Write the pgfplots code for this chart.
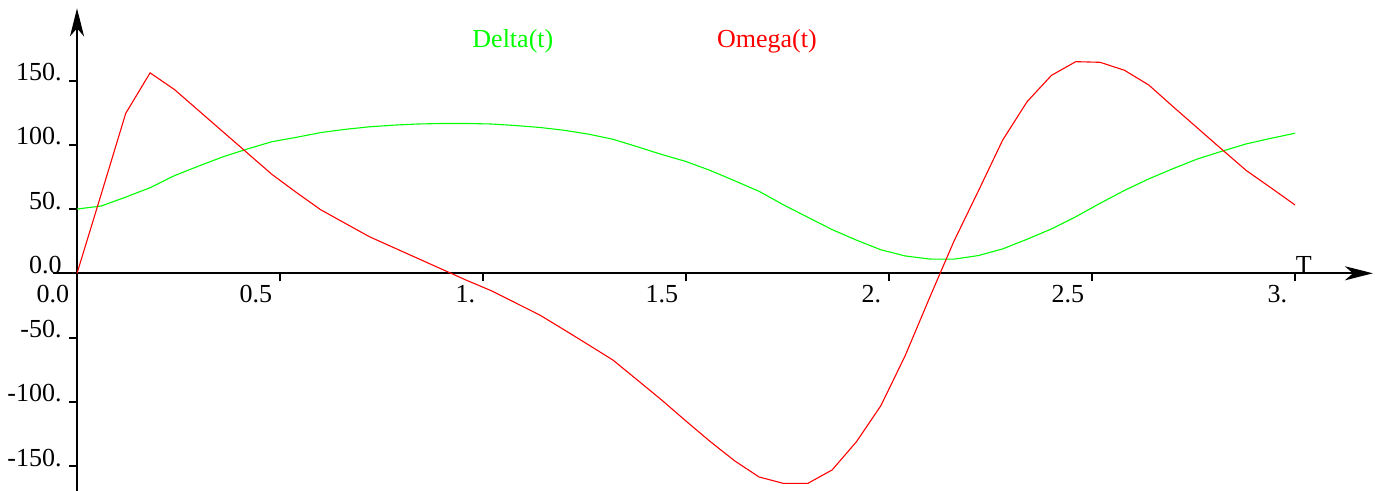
\documentclass[border=0pt]{standalone}
\usepackage{fontspec}
\setmainfont{Liberation Serif}
\usepackage{pgfplots}
\pgfplotsset{compat=1.18}
\usetikzlibrary{arrows.meta}
\definecolor{mygreen}{RGB}{0,255,0}
\definecolor{myred}{RGB}{255,0,0}
\begin{document}
\begin{tikzpicture}[>={Stealth[length=14pt,width=7pt,inset=4pt]}]
\begin{axis}[
  scale only axis,
  x=203pt, y=0.6425pt,
  xmin=-0.059, xmax=3.192,
  ymin=-175, ymax=206.2,
  axis lines=middle,
  axis line style={line width=1.1pt, ->},
  x axis line style={->},
  y axis line style={->},
  clip=false,
  hide obscured x ticks=false,
  hide obscured y ticks=false,
  xtick={0,0.5,1,1.5,2,2.5,3},
  xticklabels={,,,,,,},
  ytick={-150,-100,-50,0,50,100,150},
  yticklabels={,,,,,,},
  minor tick num=0,
  tick align=outside,
  major tick length=4pt,
  every tick/.style={line width=1pt, black},
]
\addplot[color=mygreen, line width=0.55pt] coordinates {
(0,50) (0.06,52.4) (0.12,59.3) (0.18,66.6) (0.24,76) (0.30,83.5) (0.36,90.7)
(0.42,96.8) (0.48,102.4) (0.54,105.8) (0.60,109.5) (0.66,112) (0.72,114)
(0.78,115.3) (0.84,116.2) (0.90,116.6) (0.96,116.6) (1.02,116.2) (1.08,115)
(1.14,113.5) (1.20,111.3) (1.26,108.3) (1.32,104.3) (1.38,98.5) (1.44,92.5)
(1.50,87) (1.56,80) (1.62,72) (1.68,63.8) (1.74,53.3) (1.80,43.6) (1.86,34)
(1.92,25.8) (1.98,18.3) (2.04,13.5) (2.10,11.1) (2.16,11) (2.22,13.8)
(2.28,19) (2.34,26.5) (2.40,34.5) (2.46,44) (2.52,54.5) (2.58,64.5)
(2.64,73.5) (2.70,81.5) (2.76,89) (2.82,95) (2.88,100.7) (2.94,105) (3.00,109)
};
\addplot[color=myred, line width=0.55pt] coordinates {
(0,0) (0.06,62) (0.12,124.5) (0.18,156) (0.24,143) (0.30,126.5) (0.36,110)
(0.42,93.5) (0.48,77) (0.54,63) (0.60,49.5) (0.66,39) (0.72,28.5) (0.78,20)
(0.84,11.5) (0.90,3) (0.96,-5.5) (1.02,-13.5) (1.08,-23) (1.14,-32.5)
(1.20,-44) (1.26,-55.7) (1.32,-67.5) (1.38,-83) (1.44,-98.6) (1.50,-115)
(1.56,-131) (1.62,-146) (1.68,-158.5) (1.74,-163.5) (1.80,-163.5) (1.86,-153)
(1.92,-131) (1.98,-103) (2.04,-64) (2.10,-19) (2.16,25) (2.22,64) (2.28,103.7)
(2.34,133.5) (2.40,154) (2.46,164.7) (2.52,164.2) (2.58,158) (2.64,146.5)
(2.70,129.6) (2.76,113) (2.82,96.4) (2.88,80) (2.94,66.7) (3.00,53.2)
};
% tick labels as text nodes
\pgfplotsforeachungrouped \xv/\xl in {0/0.0,0.5/0.5,1/1.,1.5/1.5,2/2.,2.5/2.5,3/3.}{
  \edef\temp{\noexpand\node[anchor=base east, inner sep=0pt, font=\noexpand\fontsize{13}{15}\noexpand\selectfont, xshift=-3.75pt, yshift=-14.6pt] at (axis cs:\xv,0) {\xl};}
  \temp
}
\pgfplotsforeachungrouped \yv/\yl in {-150/-150.,-100/-100.,-50/-50.,0/0.0,50/50.,100/100.,150/150.}{
  \edef\temp{\noexpand\node[anchor=base east, inner sep=0pt, font=\noexpand\fontsize{13}{15}\noexpand\selectfont, xshift=-7.5pt] at (axis cs:0,\yv) {\yl};}
  \temp
}
\node[anchor=base west, inner sep=0pt, text=mygreen, font=\fontsize{13}{15}\selectfont] at (axis cs:0.973,175.9) {Delta(t)};
\node[anchor=base west, inner sep=0pt, text=myred, font=\fontsize{13}{15}\selectfont] at (axis cs:1.5756,175.9) {Omega(t)};
\node[anchor=base, inner sep=0pt, font=\fontsize{13}{15}\selectfont] at (axis cs:3.022,0) {T};
\coordinate (bl) at (axis cs:-0.1897,-169.4);
\coordinate (tr) at (axis cs:3.2094,212.7);
\end{axis}
\pgfresetboundingbox
\path[use as bounding box] (bl) rectangle (tr);
\end{tikzpicture}
\end{document}
